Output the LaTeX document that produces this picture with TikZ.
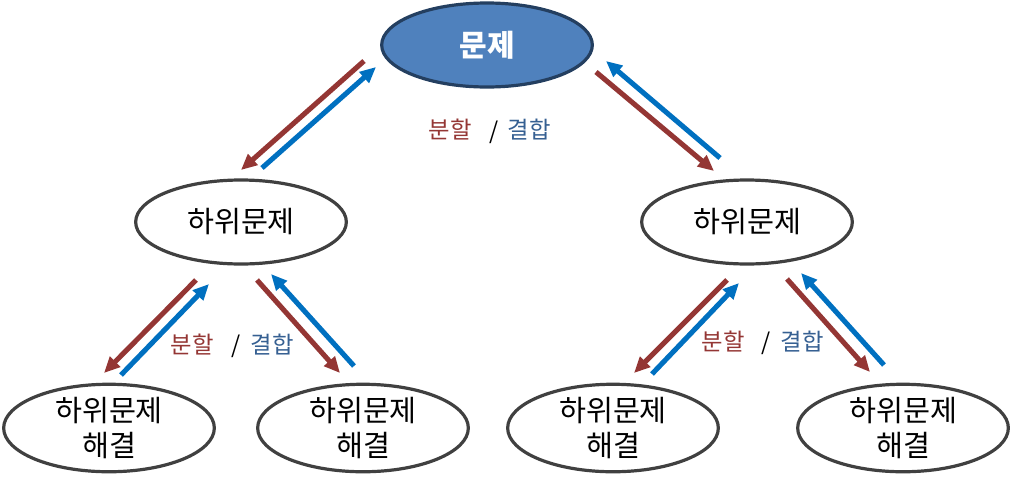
\documentclass[tikz,border=0pt]{standalone}
\usepackage{fontspec}
\setmainfont{Noto Sans CJK KR}
\usetikzlibrary{arrows.meta,shapes.geometric}
\definecolor{cred}{HTML}{943634}
\definecolor{cblue}{HTML}{0070C0}
\definecolor{lblue}{HTML}{366092}
\definecolor{topfill}{HTML}{4F81BD}
\definecolor{topdraw}{HTML}{243F60}
\definecolor{gdraw}{HTML}{404040}
\tikzset{
  el/.style={ellipse, draw=gdraw, line width=2.4pt, minimum width=158pt, minimum height=63pt, inner sep=0pt, align=center, font=\fontsize{22}{26.5}\selectfont},
  topel/.style={el, fill=topfill, draw=topdraw, text=white, font=\fontsize{22.5}{26}\selectfont\bfseries},
  arr/.style={line width=3.8pt, -{Triangle[length=12pt,width=10.5pt]}},
  redarr/.style={arr, draw=cred, fill=cred},
  bluearr/.style={arr, draw=cblue, fill=cblue},
  lbl/.style={font=\fontsize{17.5}{20}\selectfont, inner sep=0pt}
}
\begin{document}
\begin{tikzpicture}[x=0.75pt,y=-0.75pt]
\useasboundingbox (0,0) rectangle (1012,482);
\node[topel] (top) at (487,45) {문제};
\node[el] (l) at (241,222) {하위문제};
\node[el] (r) at (747,222) {하위문제};
\node[el] (ll) at (109,428) {하위문제\\해결};
\node[el] (lr) at (363,428) {하위문제\\해결};
\node[el] (rl) at (613,428) {하위문제\\해결};
\node[el] (rr) at (903,428) {하위문제\\해결};
% top arrows
\coordinate (a1s) at (364,61); \coordinate (a1e) at (241,170);
\coordinate (a2s) at (262,168); \coordinate (a2e) at (376,67);
\coordinate (a3s) at (596,72); \coordinate (a3e) at (714,171);
\coordinate (a4s) at (720,158); \coordinate (a4e) at (606,61);
\draw[redarr] (a1s) -- (a1e);
\draw[bluearr] (a2s) -- (a2e);
\draw[redarr] (a3s) -- (a3e);
\draw[bluearr] (a4s) -- (a4e);
% left lower arrows
\coordinate (b1s) at (196,280); \coordinate (b1e) at (104,373);
\coordinate (b2s) at (121,375); \coordinate (b2e) at (209,284);
\coordinate (b3s) at (257,280); \coordinate (b3e) at (340,373);
\coordinate (b4s) at (354,366); \coordinate (b4e) at (271,274);
\draw[redarr] (b1s) -- (b1e);
\draw[bluearr] (b2s) -- (b2e);
\draw[redarr] (b3s) -- (b3e);
\draw[bluearr] (b4s) -- (b4e);
% right lower arrows
\coordinate (c1s) at (727,280); \coordinate (c1e) at (634,373);
\coordinate (c2s) at (652,374); \coordinate (c2e) at (739,283);
\coordinate (c3s) at (787,279); \coordinate (c3e) at (870,372);
\coordinate (c4s) at (884,365); \coordinate (c4e) at (801,273);
\draw[redarr] (c1s) -- (c1e);
\draw[bluearr] (c2s) -- (c2e);
\draw[redarr] (c3s) -- (c3e);
\draw[bluearr] (c4s) -- (c4e);
% labels
\node[lbl, text=cred] (t1) at (450,130) {분할};
\node[lbl] (t2) at (494,132) {/};
\node[lbl, text=lblue] (t3) at (529,130) {결합};
\node[lbl, text=cred] (u1) at (192,345) {분할};
\node[lbl] (u2) at (236,346) {/};
\node[lbl, text=lblue] (u3) at (272,345) {결합};
\node[lbl, text=cred] (v1) at (723,342) {분할};
\node[lbl] (v2) at (766,343) {/};
\node[lbl, text=lblue] (v3) at (802,342) {결합};
\end{tikzpicture}
\end{document}
